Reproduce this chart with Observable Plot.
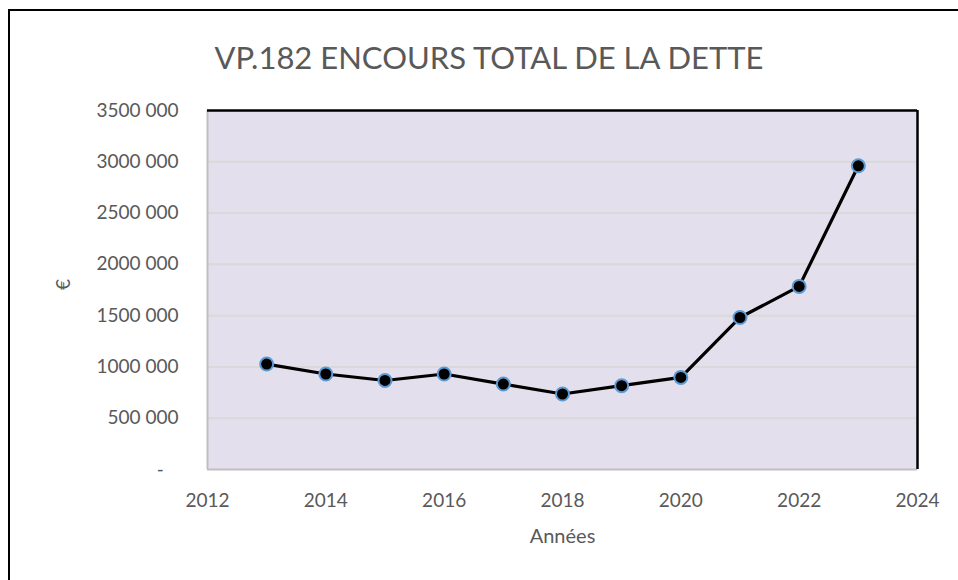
<!DOCTYPE html>
<html>
<head>
<meta charset="utf-8">
<script src="https://cdn.jsdelivr.net/npm/d3@7"></script>
<script src="https://cdn.jsdelivr.net/npm/@observablehq/plot@0.6"></script>
<style>
  body { margin: 0; background: #fff; }
  #wrap { position: relative; width: 958px; height: 580px; overflow: hidden; font-family: Lato, "Open Sans", sans-serif; }
  #border { position: absolute; left: 8px; top: 9px; width: 960px; height: 580px; border-left: 2px solid #000; border-top: 2px solid #000; box-sizing: border-box; }
  #title { position: absolute; left: 0; top: 37px; width: 978px; text-align: center; font-size: 31px; color: #595959; line-height: 40px; }
  #chart { position: absolute; left: 0; top: 90px; }
</style>
</head>
<body>
<div id="wrap">
  <div id="border"></div>
  <div id="title">VP.182 ENCOURS TOTAL DE LA DETTE</div>
  <div id="chart"></div>
</div>
<script>
const years = [2013, 2014, 2015, 2016, 2017, 2018, 2019, 2020, 2021, 2022, 2023];
const values = [1028000, 931000, 868000, 931000, 833000, 736000, 817000, 898000, 1482000, 1785000, 2961000];
const yTicks = [0, 500000, 1000000, 1500000, 2000000, 2500000, 3000000, 3500000];
const yTickLabels = ["-\u00a0\u00a0\u00a0", "500 000", "1000 000", "1500 000", "2000 000", "2500 000", "3000 000", "3500 000"];
const xTicks = [2012, 2014, 2016, 2018, 2020, 2022, 2024];
const xTitle = "Années";
const yTitle = "€";

const data = years.map((y, i) => ({year: y, value: values[i]}));

const plot = Plot.plot({
  width: 958,
  height: 490,
  marginLeft: 207,
  marginRight: 41,
  marginTop: 20,
  marginBottom: 111,
  style: {fontFamily: "Lato, 'Open Sans', sans-serif", fontSize: "19px", color: "#595959", background: "transparent"},
  x: {domain: [2012, 2024], ticks: xTicks, tickFormat: d => String(d), tickSize: 0, tickPadding: 24, label: null},
  y: {domain: [0, 3500000], ticks: yTicks, tickFormat: d => yTickLabels[yTicks.indexOf(d)], tickSize: 0, tickPadding: 29, label: null},
  marks: [
    Plot.frame({fill: "#e4dfec", stroke: "none"}),
    Plot.ruleY(yTicks.filter(d => d > 0 && d < 3500000), {stroke: "#d9d9d9", strokeWidth: 2}),
    Plot.ruleX([2012], {stroke: "#bfbfbf", strokeWidth: 2}),
    Plot.ruleY([0], {stroke: "#bfbfbf", strokeWidth: 2}),
    Plot.ruleY([3500000], {stroke: "#000", strokeWidth: 2.5}),
    Plot.ruleX([2024], {stroke: "#000", strokeWidth: 2.5}),
    Plot.line(data, {x: "year", y: "value", stroke: "#000", strokeWidth: 3.2}),
    Plot.dot(data, {x: "year", y: "value", r: 6.5, fill: "#000", stroke: "#5b9bd5", strokeWidth: 2}),
    Plot.text([xTitle], {frameAnchor: "bottom", dy: 73, text: d => d, fontSize: 20, fill: "#595959"}),
    Plot.text([yTitle], {frameAnchor: "left", dx: -144, rotate: -90, text: d => d, fontSize: 19, fill: "#595959"})
  ]
});
document.getElementById("chart").appendChild(plot);
</script>
</body>
</html>
